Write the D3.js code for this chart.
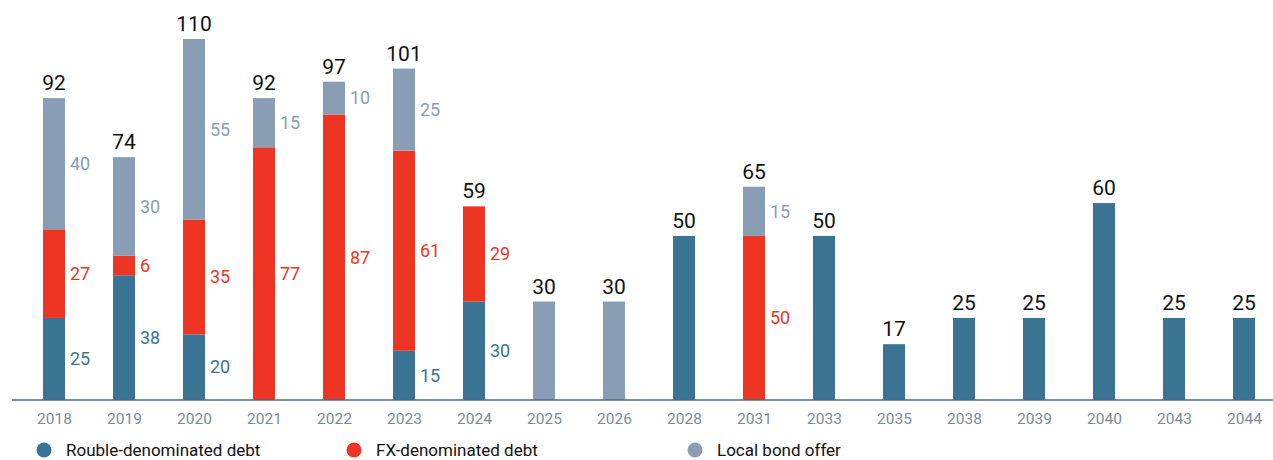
<!DOCTYPE html>
<html>
<head>
<meta charset="utf-8">
<script src="https://cdn.jsdelivr.net/npm/d3@7"></script>
<style>
  html, body { margin: 0; padding: 0; background: #fff; }
  svg { display: block; font-family: Roboto, "DejaVu Sans", sans-serif; }
</style>
</head>
<body>
<svg id="chart" width="1273" height="460"></svg>
<script>
const categories = ["2018","2019","2020","2021","2022","2023","2024","2025","2026","2028","2031","2033","2035","2038","2039","2040","2043","2044"];
const roubleDebt = [25, 38, 20, 0, 0, 15, 30, 0, 0, 50, 0, 50, 17, 25, 25, 60, 25, 25];
const fxDebt     = [27, 6, 35, 77, 87, 61, 29, 0, 0, 0, 50, 0, 0, 0, 0, 0, 0, 0];
const localBonds = [40, 30, 55, 15, 10, 25, 0, 30, 30, 0, 15, 0, 0, 0, 0, 0, 0, 0];
const seriesNames = ["Rouble-denominated debt", "FX-denominated debt", "Local bond offer"];
const seriesColors = ["#3b7392", "#ee3524", "#899eb4"];

const svg = d3.select("#chart");
const x = d3.scalePoint().domain(categories).range([54, 1244]);
const y = d3.scaleLinear().domain([0, 110]).range([400, 39]);
const barW = 22;

const rows = categories.map((c, i) => ({ cat: c, rouble: roubleDebt[i], fx: fxDebt[i], local: localBonds[i] }));
const keys = ["rouble", "fx", "local"];
const stacked = d3.stack().keys(keys)(rows);

// bars
stacked.forEach((layer, k) => {
  svg.append("g").selectAll("rect").data(layer).join("rect")
    .attr("x", d => x(d.data.cat) - barW / 2)
    .attr("y", d => y(d[1]))
    .attr("width", barW)
    .attr("height", d => y(d[0]) - y(d[1]))
    .attr("fill", seriesColors[k]);
});

// segment labels (only for multi-segment bars)
stacked.forEach((layer, k) => {
  svg.append("g").selectAll("text").data(layer.filter(d => {
      const r = d.data; const nz = keys.filter(kk => r[kk] > 0).length;
      return (d[1] - d[0]) > 0 && nz > 1;
    })).join("text")
    .attr("x", d => x(d.data.cat) + barW / 2 + 5)
    .attr("y", d => (y(d[0]) + y(d[1])) / 2)
    .attr("dy", "0.35em")
    .attr("font-size", 18)
    .attr("font-weight", 400)
    .attr("fill", seriesColors[k])
    .text(d => d[1] - d[0]);
});

// totals
svg.append("g").selectAll("text").data(rows).join("text")
  .attr("x", d => x(d.cat))
  .attr("y", d => y(d.rouble + d.fx + d.local) - 8)
  .attr("text-anchor", "middle")
  .attr("font-size", 21)
  .attr("font-weight", 400)
  .attr("fill", "#111")
  .text(d => d.rouble + d.fx + d.local);

// axis
const axis = svg.append("g").attr("transform", "translate(0,400)")
  .call(d3.axisBottom(x).tickSize(0).tickPadding(13));
axis.select(".domain").remove();
axis.append("line").attr("x1", 12).attr("x2", 1273).attr("y1", 0).attr("y2", 0)
  .attr("stroke", "#4d6a84").attr("stroke-width", 1.6);
axis.selectAll(".tick text").attr("font-size", 15.5).attr("fill", "#7b8b9c")
  .attr("font-family", "Roboto, sans-serif");

// legend
const legendX = [44, 354, 695];
const leg = svg.append("g").selectAll("g").data(seriesNames).join("g")
  .attr("transform", (d, i) => `translate(${legendX[i]},450)`);
leg.append("circle").attr("r", 7.5).attr("fill", (d, i) => seriesColors[i]);
leg.append("text").attr("x", 22).attr("dy", "0.35em")
  .attr("font-size", 17).attr("font-weight", 400).attr("fill", "#111")
  .text(d => d);
</script>
</body>
</html>
